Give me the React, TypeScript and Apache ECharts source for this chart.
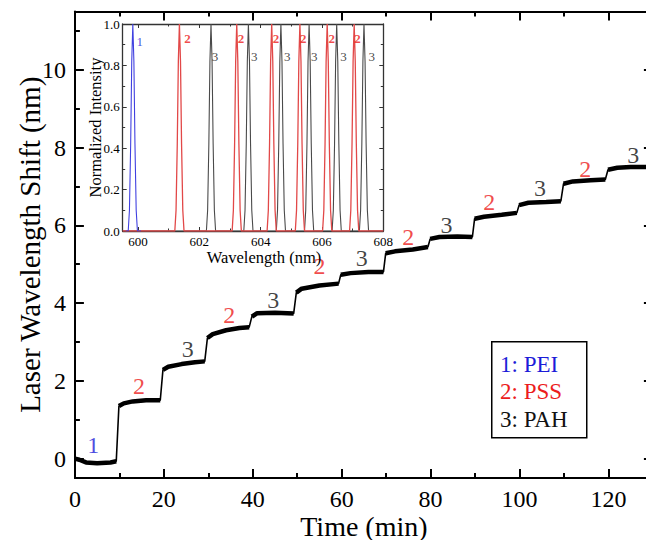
import React, { useEffect, useRef } from "react";
import * as echarts from "echarts";

const FONT = "'Liberation Serif', 'Times New Roman', serif";
const BLUE = "#1c1cd8";
const RED = "#ec1c1c";
const DARK = "#111111";

// Main curve: plateaus (time in min, wavelength shift in nm)
const STEP_POINTS: [number, number][][] = [
  [[0, 0.0], [1, -0.03], [2.5, -0.1], [5, -0.12], [8, -0.1], [9.3, -0.07]],
  [[9.9, 1.35], [11, 1.42], [13, 1.47], [16, 1.5], [19.2, 1.5]],
  [[19.8, 2.28], [21, 2.36], [24, 2.43], [27, 2.48], [29.2, 2.5]],
  [[29.8, 3.1], [31, 3.2], [34, 3.3], [37, 3.36], [39.2, 3.38]],
  [[39.8, 3.65], [41, 3.74], [45, 3.75], [49.2, 3.73]],
  [[49.8, 4.27], [51, 4.37], [55, 4.45], [59.3, 4.5]],
  [[59.8, 4.73], [62, 4.77], [66, 4.8], [69.4, 4.8]],
  [[69.9, 5.28], [72, 5.33], [76, 5.38], [79.4, 5.44]],
  [[79.9, 5.65], [82, 5.7], [86, 5.71], [89.4, 5.7]],
  [[89.9, 6.17], [92, 6.22], [96, 6.27], [99.4, 6.32]],
  [[99.9, 6.52], [102, 6.58], [106, 6.6], [109.3, 6.62]],
  [[109.9, 7.07], [112, 7.13], [116, 7.16], [119.3, 7.18]],
  [[119.9, 7.43], [122, 7.48], [125, 7.5], [130, 7.5]],
];

const LAYER_ID = ["1", "2", "3", "2", "3", "2", "3", "2", "3", "2", "3", "2", "3"];
const LAYER_TIME = [4.1, 14.4, 25.4, 34.7, 44.6, 55.0, 64.5, 75.0, 83.6, 93.2, 104.6, 114.8, 125.6];
const LAYER_SHIFT = [0.36, 1.86, 2.83, 3.7, 4.07, 4.95, 5.16, 5.71, 6.01, 6.61, 6.96, 7.44, 7.81];

// Inset spectra (wavelength nm)
const PEI_PEAKS = [599.83];
const PSS_PEAKS = [601.35, 603.22, 604.36, 605.28, 606.17, 607.05];
const PAH_PEAKS = [602.38, 603.6, 604.66, 605.58, 606.48, 607.37];
const PEAK_PROFILE: [number, number][] = [
  [-0.15, 0], [-0.11, 0.1], [-0.07, 0.42], [-0.035, 0.82], [0, 1],
  [0.035, 0.82], [0.07, 0.42], [0.11, 0.1], [0.15, 0],
];
const INSET_LABEL_WL = [600.06, 601.61, 602.51, 603.36, 603.79, 604.5, 604.87, 605.39, 605.75, 606.32, 606.7, 607.16, 607.62];
const INSET_LABEL_INT = [0.915, 0.93, 0.845, 0.93, 0.845, 0.93, 0.845, 0.93, 0.845, 0.93, 0.845, 0.93, 0.845];

const LEGEND_ITEMS = ["1: PEI", "2: PSS", "3: PAH"];
const LEGEND_COLORS = [BLUE, RED, DARK];

const idColor = (id: string) => (id === "1" ? BLUE : id === "2" ? RED : DARK);

function spectrum(peaks: number[], from: number, to: number): [number, number][] {
  const pts: [number, number][] = [[from, 0]];
  peaks.forEach((c) => PEAK_PROFILE.forEach(([d, h]) => pts.push([+(c + d).toFixed(3), h])));
  pts.push([to, 0]);
  return pts;
}

export default function App() {
  const ref = useRef<HTMLDivElement>(null);
  useEffect(() => {
    document.body.style.margin = "0";
    document.body.style.overflow = "hidden";
    const chart = echarts.init(ref.current!, null, { renderer: "svg" });

    const fullLine = STEP_POINTS.flat();
    const plateaus: any[] = [];
    STEP_POINTS.forEach((s, i) => {
      if (i > 0) plateaus.push([null, null]);
      s.forEach((p) => plateaus.push(p));
    });

    const mainLabels = LAYER_ID.map((id, i) => ({
      name: id,
      value: [LAYER_TIME[i], LAYER_SHIFT[i]],
      label: { color: idColor(id) },
    }));
    const insetLabels = LAYER_ID.map((id, i) => ({
      name: id,
      value: [INSET_LABEL_WL[i], INSET_LABEL_INT[i]],
      label: { color: idColor(id), fontWeight: id === "2" ? "bold" : "normal" },
    }));

    const mainTick = { show: true, inside: true, length: 9, lineStyle: { color: "#000", width: 2 } };
    const mainMinor = { show: true, splitNumber: 2, length: 5, lineStyle: { color: "#000", width: 2 } };
    const mainLine = { show: true, onZero: false, lineStyle: { color: "#000", width: 2 } };
    const inTick = { show: true, inside: true, length: 4, lineStyle: { color: "#333", width: 1 } };
    const inMinor = { show: true, splitNumber: 2, length: 2.5, lineStyle: { color: "#333", width: 1 } };
    const inLine = { show: true, onZero: false, lineStyle: { color: "#333", width: 1.3 } };

    chart.setOption({
      animation: false,
      backgroundColor: "#ffffff",
      textStyle: { fontFamily: FONT },
      grid: [
        { left: 74.9, top: 11.5, width: 578, height: 466.5, outerBoundsMode: "none", show: false },
        {
          left: 122.7, top: 24, width: 260.6, height: 207, outerBoundsMode: "none",
          show: true, backgroundColor: "#ffffff", borderWidth: 0, z: 5,
        },
      ],
      xAxis: [
        {
          gridIndex: 0, type: "value", min: 0, max: 130, interval: 20,
          name: "Time (min)", nameLocation: "middle", nameGap: 34, nameMoveOverlap: false,
          nameTextStyle: { fontFamily: FONT, fontSize: 28, color: "#000" },
          axisLine: mainLine, axisTick: mainTick, minorTick: mainMinor,
          axisLabel: {
            fontFamily: FONT, fontSize: 24, color: "#000", margin: 9,
            formatter: (v: number) => (v % 20 === 0 ? String(v) : ""),
          },
          splitLine: { show: false },
        },
        {
          gridIndex: 0, type: "value", min: 0, max: 130, interval: 20, position: "top",
          axisLine: mainLine, axisTick: mainTick, minorTick: mainMinor,
          axisLabel: { show: false }, splitLine: { show: false },
        },
        {
          gridIndex: 1, type: "value", min: 599.5, max: 608, splitNumber: 4,
          name: "Wavelength (nm)", nameLocation: "middle", nameGap: 18, nameMoveOverlap: false,
          nameTextStyle: { fontFamily: FONT, fontSize: 16.5, color: "#000", padding: [0, 0, 0, 22] },
          axisLine: inLine, axisTick: inTick, minorTick: inMinor,
          axisLabel: {
            fontFamily: FONT, fontSize: 13, color: "#000", margin: 4,
            formatter: (v: number) => (Math.abs(v % 2) < 1e-6 ? String(v) : ""),
          },
          splitLine: { show: false }, z: 6,
        },
        {
          gridIndex: 1, type: "value", min: 599.5, max: 608, splitNumber: 4, position: "top",
          axisLine: inLine, axisTick: inTick, minorTick: inMinor,
          axisLabel: { show: false }, splitLine: { show: false }, z: 6,
        },
      ],
      yAxis: [
        {
          gridIndex: 0, type: "value", min: -0.5, max: 11.5, splitNumber: 6,
          name: "Laser Wavelength Shift (nm)", nameLocation: "middle", nameGap: 30, nameMoveOverlap: false,
          nameTextStyle: { fontFamily: FONT, fontSize: 29, color: "#000" },
          axisLine: mainLine, axisTick: mainTick, minorTick: mainMinor,
          axisLabel: {
            fontFamily: FONT, fontSize: 24, color: "#000", margin: 9,
            formatter: (v: number) => (Math.abs(v % 2) < 1e-6 ? String(v) : ""),
          },
          splitLine: { show: false },
        },
        {
          gridIndex: 0, type: "value", min: -0.5, max: 11.5, splitNumber: 6, position: "right",
          axisLine: mainLine, axisTick: mainTick, minorTick: mainMinor,
          axisLabel: { show: false }, splitLine: { show: false },
        },
        {
          gridIndex: 1, type: "value", min: 0, max: 1, interval: 0.2,
          name: "Normalized Intensity", nameLocation: "middle", nameGap: 19, nameMoveOverlap: false,
          nameTextStyle: { fontFamily: FONT, fontSize: 16.5, color: "#000" },
          axisLine: inLine, axisTick: inTick, minorTick: inMinor,
          axisLabel: {
            fontFamily: FONT, fontSize: 13, color: "#000", margin: 3,
            formatter: (v: number) => v.toFixed(1),
          },
          splitLine: { show: false }, z: 6,
        },
        {
          gridIndex: 1, type: "value", min: 0, max: 1, interval: 0.2, position: "right",
          axisLine: inLine, axisTick: inTick, minorTick: inMinor,
          axisLabel: { show: false }, splitLine: { show: false }, z: 6,
        },
      ],
      series: [
        {
          type: "line", xAxisIndex: 0, yAxisIndex: 0, data: fullLine, symbol: "none",
          lineStyle: { color: "#000", width: 1.6 }, z: 3,
        },
        {
          type: "line", xAxisIndex: 0, yAxisIndex: 0, data: plateaus, symbol: "none",
          connectNulls: false, lineStyle: { color: "#000", width: 4.5 }, z: 3,
        },
        {
          type: "scatter", xAxisIndex: 0, yAxisIndex: 0, data: mainLabels, symbolSize: 0,
          label: { show: true, position: "inside", formatter: "{b}", fontFamily: FONT, fontSize: 24 },
          z: 4,
        },
        {
          type: "line", xAxisIndex: 2, yAxisIndex: 2, data: spectrum(PAH_PEAKS, 599.5, 608), symbol: "none",
          lineStyle: { color: "#4a4a4a", width: 1.1 }, z: 10,
        },
        {
          type: "line", xAxisIndex: 2, yAxisIndex: 2, data: spectrum(PSS_PEAKS, 599.5, 608), symbol: "none",
          lineStyle: { color: "#e24848", width: 1.3 }, z: 11,
        },
        {
          type: "line", xAxisIndex: 2, yAxisIndex: 2, data: spectrum(PEI_PEAKS, 599.6, 600.1), symbol: "none",
          lineStyle: { color: "#4040e0", width: 1.1 }, z: 12,
        },
        {
          type: "scatter", xAxisIndex: 2, yAxisIndex: 2, data: insetLabels, symbolSize: 0,
          label: { show: true, position: "inside", formatter: "{b}", fontFamily: FONT, fontSize: 13 },
          z: 13,
        },
      ],
      graphic: [
        {
          type: "rect", left: 491, top: 341, z: 20,
          shape: { width: 95, height: 96 },
          style: { fill: "#fff", stroke: "#000", lineWidth: 1.5 },
        },
        ...LEGEND_ITEMS.map((t, i) => ({
          type: "text", x: 500, y: 364 + i * 27.5, z: 21,
          style: {
            text: t, fill: LEGEND_COLORS[i], fontFamily: FONT, fontSize: 23,
            verticalAlign: "middle",
          },
        })),
      ],
    });
    return () => chart.dispose();
  }, []);
  return <div ref={ref} style={{ width: 646, height: 540, position: "absolute", left: 0, top: 0 }} />;
}
